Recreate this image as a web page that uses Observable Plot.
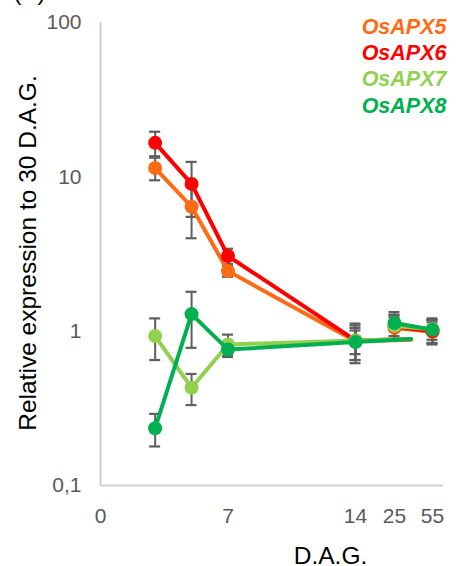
<!DOCTYPE html>
<html>
<head>
<meta charset="utf-8">
<script src="https://cdn.jsdelivr.net/npm/d3@7"></script>
<script src="https://cdn.jsdelivr.net/npm/@observablehq/plot@0.6"></script>
<style>
  html, body { margin: 0; padding: 0; background: #fff; }
</style>
</head>
<body>
<div id="chart"></div>
<script>
// Days after germination (D.A.G.) at which expression was measured
const days = [3, 5, 7, 14, 25, 55];
// The 3–14 day trace trails off a little past the 14-day point
const trailDay = 38;

const genes = ["OsAPX5", "OsAPX6", "OsAPX7", "OsAPX8"];
const geneColors = ["#FF6B14", "#FF0000", "#92D050", "#00B050"];

// Relative expression (to 30 D.A.G.) and standard error, per gene
const apx5 = [11.4, 6.4, 2.45, 0.86, 1.05, 0.99];
const apx5Err = [1.9, 2.4, 0.2, 0.15, 0.18, 0.15];
const apx6 = [16.6, 9.0, 3.07, 0.87, 1.07, 1.0];
const apx6Err = [3.0, 3.5, 0.35, 0.22, 0.2, 0.18];
const apx7 = [0.93, 0.43, 0.82, 0.87, 1.08, 1.03];
const apx7Err = [0.28, 0.098, 0.13, 0.25, 0.2, 0.15];
const apx8 = [0.235, 1.29, 0.76, 0.85, 1.13, 1.02];
const apx8Err = [0.056, 0.51, 0.08, 0.2, 0.2, 0.19];
const trailValues = [0.88, 0.89, 0.89, 0.89];

const xTicks = [0, 7, 14, 25, 55];
const yTicks = [0.1, 1, 10, 100];

const values = [apx5, apx6, apx7, apx8];
const errors = [apx5Err, apx6Err, apx7Err, apx8Err];

// Long-format table: one row per gene and day
const rows = [];
genes.forEach((gene, g) => {
  days.forEach((day, i) => {
    rows.push({gene, day, value: values[g][i], err: errors[g][i], seg: day <= 14 ? "early" : "late"});
  });
});
// Line paths: early segment (3–14 plus trail) and late segment (25–55)
const paths = [];
genes.forEach((gene, g) => {
  rows.filter(r => r.gene === gene && r.seg === "early").forEach(r => paths.push(r));
  paths.push({gene, day: trailDay, value: trailValues[g], seg: "early"});
  rows.filter(r => r.gene === gene && r.seg === "late").forEach(r => paths.push(r));
});

const axisGrey = "#d0d0d0";
const errGrey = "#5f5f5f";

const marks = [
  // axis lines
  Plot.ruleX([0], {y1: 0.1, y2: 100, stroke: axisGrey, strokeWidth: 2}),
  Plot.ruleY([0.1], {x1: 0, x2: 55, insetRight: -11, stroke: axisGrey, strokeWidth: 2}),
  Plot.axisY({ticks: yTicks, tickFormat: d => String(d).replace(".", ","), tickSize: 0, tickPadding: 19, fontSize: 21, label: null}),
  Plot.axisX({ticks: xTicks, tickSize: 0, tickPadding: 23, fontSize: 21, label: null}),
  // error bars
  Plot.ruleX(rows, {x: "day", y1: d => d.value - d.err, y2: d => d.value + d.err, stroke: errGrey, strokeWidth: 2}),
  Plot.ruleY(rows, {x1: "day", x2: "day", y: d => d.value + d.err, insetLeft: -5.5, insetRight: -5.5, stroke: errGrey, strokeWidth: 2.2}),
  Plot.ruleY(rows, {x1: "day", x2: "day", y: d => d.value - d.err, insetLeft: -5.5, insetRight: -5.5, stroke: errGrey, strokeWidth: 2.2})
];

// each gene: line then markers, later genes drawn on top
genes.forEach((gene, g) => {
  marks.push(Plot.line(paths.filter(d => d.gene === gene), {x: "day", y: "value", z: "seg", stroke: geneColors[g], strokeWidth: 4, curve: "linear"}));
  marks.push(Plot.dot(rows.filter(d => d.gene === gene), {x: "day", y: "value", r: 7, fill: geneColors[g], stroke: "none"}));
});

// legend, top right
genes.forEach((gene, g) => {
  marks.push(Plot.text([gene], {
    text: d => d, frameAnchor: "top-right", textAnchor: "end", lineAnchor: "top",
    dx: 3, dy: -4 + g * 26.3, fill: geneColors[g], fontSize: 21.5, fontWeight: "bold", fontStyle: "italic"
  }));
});

// axis titles and panel label
marks.push(Plot.text(["Relative expression to 30 D.A.G."], {
  text: d => d, frameAnchor: "left", textAnchor: "middle", lineAnchor: "middle",
  rotate: -90, dx: -72, dy: -1, fill: "#000", fontSize: 24.5
}));
marks.push(Plot.text(["D.A.G."], {
  text: d => d, frameAnchor: "bottom", textAnchor: "middle", lineAnchor: "top",
  dx: 58.5, dy: 61, fill: "#000", fontSize: 24.5
}));
marks.push(Plot.text(["(B)"], {
  text: d => d, frameAnchor: "top-left", textAnchor: "start", lineAnchor: "top",
  dx: -87, dy: -40, fill: "#000", fontSize: 24
}));

const chart = Plot.plot({
  width: 456,
  height: 566,
  marginLeft: 100,
  marginRight: 13,
  marginTop: 22,
  marginBottom: 81,
  style: {fontFamily: "'Liberation Sans', Arial, sans-serif", color: "#595959", background: "#fff", overflow: "visible"},
  x: {type: "linear", domain: [0, 14, 25, 55], range: [100, 355, 394, 432]},
  y: {type: "log", domain: [0.1, 100], range: [485, 22]},
  marks
});
document.getElementById("chart").appendChild(chart);
</script>
</body>
</html>
